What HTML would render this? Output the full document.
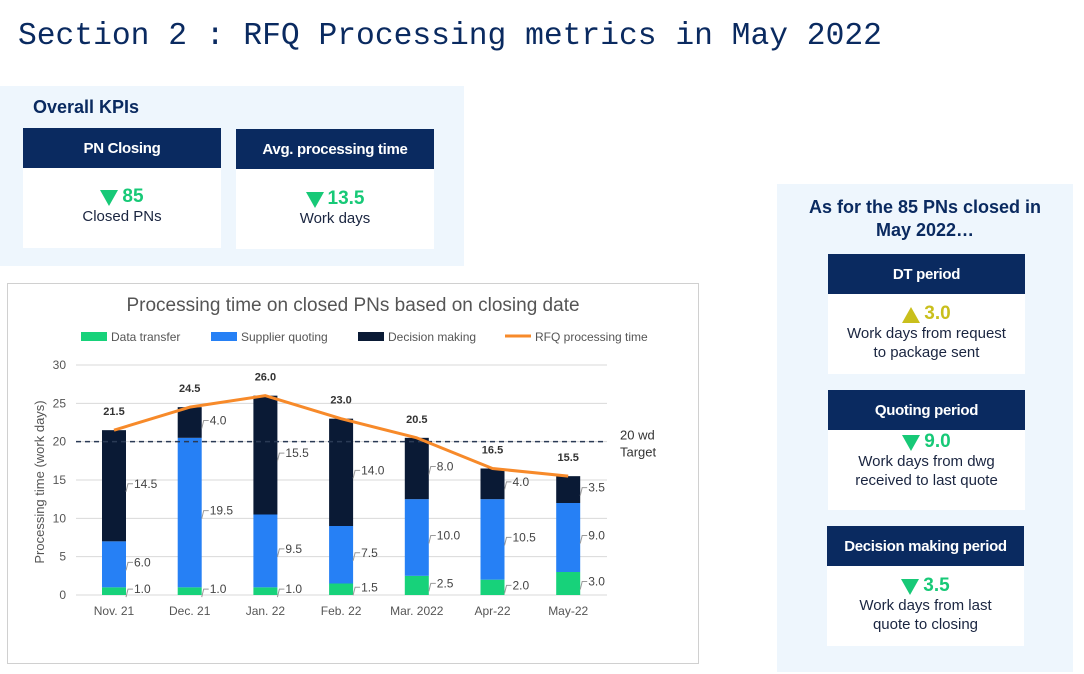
<!DOCTYPE html>
<html><head><meta charset="utf-8">
<style>
body{margin:0;width:1084px;height:674px;background:#fff;position:relative;overflow:hidden;font-family:"Liberation Sans",sans-serif}
.abs{position:absolute}
.hdr{background:#0a2a60;color:#fff;font-weight:bold;font-size:15px;display:flex;align-items:center;justify-content:center;letter-spacing:-0.3px}
.body{background:#fff;text-align:center;color:#1a2540;font-size:15px}
.val{font-weight:bold;font-size:19px;color:#17c977}
.tri{display:inline-block;width:0;height:0;border-left:9px solid transparent;border-right:9px solid transparent;vertical-align:middle;margin-right:4px}
.dn{border-top:16px solid #17c977}
.up{border-bottom:16px solid #c9bf1c}
</style></head><body>
<div class="abs" style="left:18px;top:19px;font-family:'Liberation Mono',monospace;font-size:31.3px;color:#0a2a60">Section 2 : RFQ Processing metrics in May 2022</div>

<div class="abs" style="left:0;top:86px;width:464px;height:180px;background:#eef6fd">
 <div class="abs" style="left:33px;top:11px;font-weight:bold;font-size:18px;color:#0a2a60">Overall KPIs</div>
 <div class="abs hdr" style="left:23px;top:42px;width:198px;height:40px">PN Closing</div>
 <div class="abs body" style="left:23px;top:82px;width:198px;height:80px"><div style="margin-top:18px"><span class="tri dn"></span><span class="val">85</span></div><div>Closed PNs</div></div>
 <div class="abs hdr" style="left:236px;top:43px;width:198px;height:40px">Avg. processing time</div>
 <div class="abs body" style="left:236px;top:83px;width:198px;height:80px"><div style="margin-top:19px"><span class="tri dn"></span><span class="val">13.5</span></div><div>Work days</div></div>
</div>

<div class="abs" style="left:7px;top:283px;width:692px;height:381px;border:1px solid #d0d0d0;box-sizing:border-box"></div>
<svg class="abs" id="chart" style="left:0;top:0" width="700" height="674" font-family="Liberation Sans, sans-serif"></svg>

<div class="abs" style="left:777px;top:184px;width:296px;height:488px;background:#eef6fd">
 <div class="abs" style="left:0;top:12px;width:296px;text-align:center;font-weight:bold;font-size:18px;color:#0a2a60;line-height:23px">As for the 85 PNs closed in<br>May 2022…</div>
 <div class="abs hdr" style="left:51px;top:70px;width:197px;height:40px">DT period</div>
 <div class="abs body" style="left:51px;top:110px;width:197px;height:80px;line-height:19px"><div style="margin-top:10px"><span class="tri up"></span><span class="val" style="color:#c9bf1c">3.0</span></div><div>Work days from request<br>to package sent</div></div>
 <div class="abs hdr" style="left:51px;top:206px;width:197px;height:40px">Quoting period</div>
 <div class="abs body" style="left:51px;top:246px;width:197px;height:80px;line-height:19px"><div style="margin-top:2px"><span class="tri dn"></span><span class="val">9.0</span></div><div>Work days from dwg<br>received to last quote</div></div>
 <div class="abs hdr" style="left:50px;top:342px;width:197px;height:40px">Decision making period</div>
 <div class="abs body" style="left:50px;top:382px;width:197px;height:80px;line-height:19px"><div style="margin-top:10px"><span class="tri dn"></span><span class="val">3.5</span></div><div>Work days from last<br>quote to closing</div></div>
</div>

<script>
const categories=["Nov. 21","Dec. 21","Jan. 22","Feb. 22","Mar. 2022","Apr-22","May-22"];
const dataTransfer=[1.0,1.0,1.0,1.5,2.5,2.0,3.0];
const supplierQuoting=[6.0,19.5,9.5,7.5,10.0,10.5,9.0];
const decisionMaking=[14.5,4.0,15.5,14.0,8.0,4.0,3.5];
const rfqTotal=[21.5,24.5,26.0,23.0,20.5,16.5,15.5];
const yTicks=[0,5,10,15,20,25,30];
const target=20;

const svg=document.getElementById('chart');
const NS='http://www.w3.org/2000/svg';
const y0=595,yScale=230/30;
const yPos=v=>y0-v*yScale;
const xPos=i=>114+i*75.7;
const BW=24;
function mk(tag,attrs,text){const e=document.createElementNS(NS,tag);for(const k in attrs)e.setAttribute(k,attrs[k]);if(text!==undefined)e.textContent=text;svg.appendChild(e);return e;}

let t=mk('text',{x:353,y:311,'text-anchor':'middle','font-size':19,fill:'#555'},'Processing time on closed PNs based on closing date');


const legend=[["Data transfer","#17d27a",81,'rect'],["Supplier quoting","#2680f5",211,'rect'],["Decision making","#0a1a35",358,'rect'],["RFQ processing time","#f78a2a",505,'line']];
legend.forEach(l=>{
 let g;
 if(l[3]=='rect') g=mk('rect',{x:l[2],y:332,width:26,height:9,fill:l[1]});
 else g=mk('line',{x1:l[2],y1:336,x2:l[2]+26,y2:336,stroke:l[1],'stroke-width':3});
 
 let tx=mk('text',{x:l[2]+30,y:341,'font-size':12,fill:'#555'},l[0]);
 
});

yTicks.forEach(v=>{
 let gl=mk('line',{x1:76,x2:607,y1:yPos(v),y2:yPos(v),stroke:'#d9d9d9','stroke-width':1});
 
 let tl=mk('text',{x:66,y:yPos(v)+4,'text-anchor':'end','font-size':12,fill:'#555'},v);
 
});
let yt=mk('text',{x:0,y:0,'font-size':13,fill:'#555','text-anchor':'middle',transform:'translate(44,482) rotate(-90)'},'Processing time (work days)');


categories.forEach((c,i)=>{
 const x=xPos(i);
 const segs=[[0,dataTransfer[i],'#17d27a'],[dataTransfer[i],dataTransfer[i]+supplierQuoting[i],'#2680f5'],[dataTransfer[i]+supplierQuoting[i],dataTransfer[i]+supplierQuoting[i]+decisionMaking[i],'#0a1a35']];
 const names=['bar-data-transfer','bar-supplier-quoting','bar-decision-making'];
 const vals=[dataTransfer[i],supplierQuoting[i],decisionMaking[i]];
 segs.forEach((s,k)=>{
  let r=mk('rect',{x:x-BW/2,y:yPos(s[1]),width:BW,height:(s[1]-s[0])*yScale,fill:s[2]});
  
  const mid=yPos((s[0]+s[1])/2);
  mk('polyline',{points:`${x+12},${mid+6} ${x+14},${mid-2} ${x+19},${mid-2}`,fill:'none',stroke:'#999','stroke-width':1});
  let vl=mk('text',{x:x+20,y:mid+2,'font-size':12,fill:'#444'},vals[k].toFixed(1));
  
 });
 let tl=mk('text',{x:x,y:yPos(rfqTotal[i])-15,'text-anchor':'middle','font-size':11,'font-weight':'bold',fill:'#333'},rfqTotal[i].toFixed(1));
 
 let xl=mk('text',{x:x,y:615,'text-anchor':'middle','font-size':12,fill:'#555'},c);
 
});

let tg=mk('line',{x1:76,x2:604,y1:yPos(target),y2:yPos(target),stroke:'#2a3a55','stroke-width':1.5,'stroke-dasharray':'5,4'});

let tt=mk('text',{x:620,y:yPos(target)-2,'font-size':13,fill:'#333'},'20 wd');

let tt2=mk('text',{x:620,y:yPos(target)+15,'font-size':13,fill:'#333'},'Target');


let line=mk('polyline',{points:rfqTotal.map((v,i)=>`${xPos(i)},${yPos(v)}`).join(' '),fill:'none',stroke:'#f78a2a','stroke-width':3,'stroke-linejoin':'round'});

</script>
</body></html>
